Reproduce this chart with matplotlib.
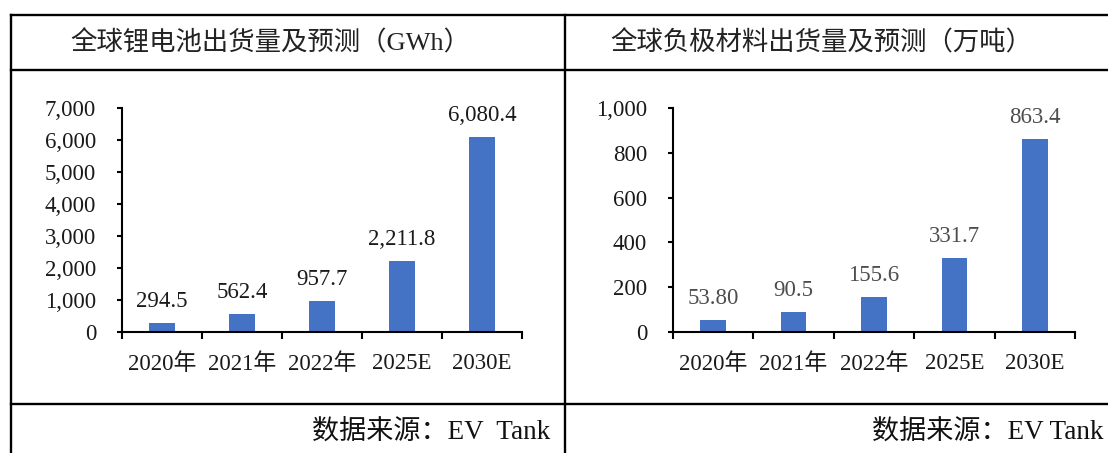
import matplotlib
matplotlib.use("Agg")
import matplotlib.pyplot as plt
from matplotlib.lines import Line2D
from matplotlib.ticker import FuncFormatter

plt.rcParams['font.family'] = ['Liberation Serif', 'Noto Sans CJK SC']

# Data
categories = ['2020年', '2021年', '2022年', '2025E', '2030E']
battery_gwh = [294.5, 562.4, 957.7, 2211.8, 6080.4]
battery_labels = ['294.5', '562.4', '957.7', '2,211.8', '6,080.4']
anode_wt = [53.80, 90.5, 155.6, 331.7, 863.4]
anode_labels = ['53.80', '90.5', '155.6', '331.7', '863.4']

battery_title = '全球锂电池出货量及预测（GWh）'
anode_title = '全球负极材料出货量及预测（万吨）'
battery_source = '数据来源：EV  Tank'
anode_source = '数据来源：EV Tank'

BAR_COLOR = '#4472C4'
W, H = 1108, 453


def fx(px):
    return px / W


def fy(py):
    return 1 - py / H


fig = plt.figure(figsize=(W / 100, H / 100), dpi=100)

# table grid
lw_tab = 1.7
for y in (15, 70, 404):
    fig.add_artist(Line2D([fx(11), fx(W)], [fy(y), fy(y)], transform=fig.transFigure,
                          color='black', lw=lw_tab))
for x in (11, 565):
    fig.add_artist(Line2D([fx(x), fx(x)], [fy(15), fy(H)], transform=fig.transFigure,
                          color='black', lw=lw_tab))


def draw_bars(ax, values, labels, ymax, ystep, label_color):
    xs = range(len(categories))
    ax.bar(xs, values, width=0.32, color=BAR_COLOR, zorder=2)
    for x, v, lab in zip(xs, values, labels):
        ax.annotate(lab, (x, v), xytext=(0, 11.5), textcoords='offset points',
                    ha='center', va='baseline', fontsize=16.5, color=label_color)

    ax.set_xlim(-0.5, len(categories) - 0.5)
    ax.set_ylim(0, ymax)
    ax.set_yticks(range(0, ymax + 1, ystep))
    ax.yaxis.set_major_formatter(FuncFormatter(lambda v, p: f'{v:,.0f}'))

    # boundary ticks on x, labels on minor ticks at bar centres
    ax.set_xticks([i - 0.5 for i in range(len(categories) + 1)])
    ax.set_xticklabels([])
    ax.set_xticks(list(xs), minor=True)
    ax.set_xticklabels(categories, minor=True)
    ax.tick_params(axis='x', which='major', length=5, width=1.5, direction='out')
    ax.tick_params(axis='x', which='minor', length=0, pad=15, labelsize=16.5,
                   labelcolor='#1a1a1a')
    ax.tick_params(axis='y', length=3.6, width=1.5, direction='out', pad=15,
                   labelsize=16.5, labelcolor='#1a1a1a')

    for s in ('top', 'right'):
        ax.spines[s].set_visible(False)
    for s in ('left', 'bottom'):
        ax.spines[s].set_linewidth(1.5)
        ax.spines[s].set_color('black')


ax1 = fig.add_axes([fx(122), fy(332), 400 / W, 224 / H])
draw_bars(ax1, battery_gwh, battery_labels, 7000, 1000, '#1a1a1a')

ax2 = fig.add_axes([fx(673), fy(332), 402 / W, 224 / H])
draw_bars(ax2, anode_wt, anode_labels, 1000, 200, '#4d4d4d')

# header and source texts
fig.text(fx(270), fy(43), battery_title, ha='center', va='center', fontsize=19,
         color='#222222')
fig.text(fx(821), fy(43), anode_title, ha='center', va='center', fontsize=19,
         color='#222222')
fig.text(fx(550), fy(432), battery_source, ha='right', va='center', fontsize=19.5,
         color='#111111')
fig.text(fx(1103), fy(432), anode_source, ha='right', va='center', fontsize=19.5,
         color='#111111')

fig.savefig('out.png', dpi=100)
